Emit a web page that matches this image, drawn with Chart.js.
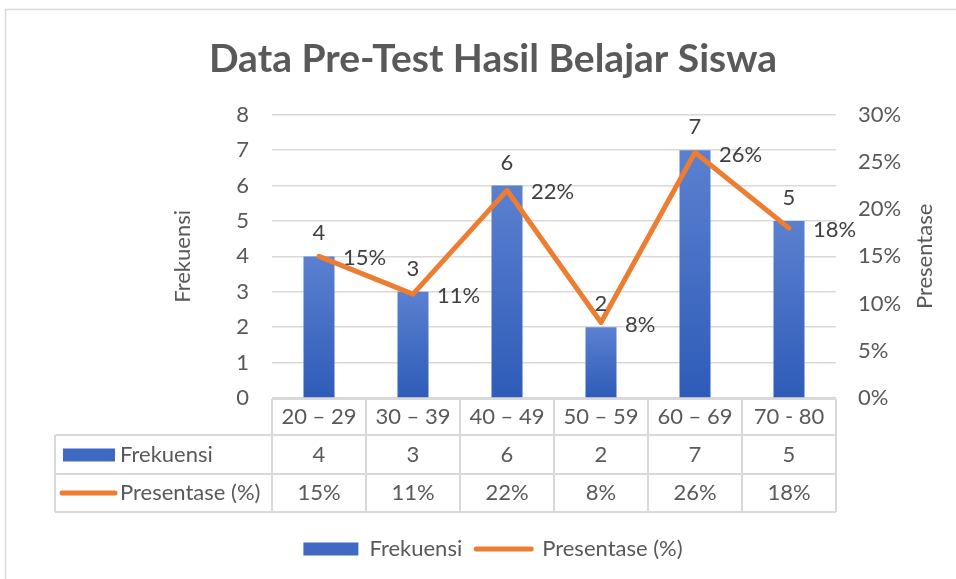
<!DOCTYPE html>
<html>
<head>
<meta charset="utf-8">
<script src="https://cdn.jsdelivr.net/npm/chart.js@4"></script>
<style>
  html, body { margin: 0; padding: 0; background: #fff; }
  #wrap { position: absolute; left: 0; top: 0; width: 956px; height: 579px; }
</style>
</head>
<body>
<div id="wrap"><canvas id="chart" width="956" height="579"></canvas></div>
<script>
// data
const categories = ['20 – 29', '30 – 39', '40 – 49', '50 – 59', '60 – 69', '70 - 80'];
const frekuensi = [4, 3, 6, 2, 7, 5];
const presentase = [15, 11, 22, 8, 26, 18];
const leftTicks = [0, 1, 2, 3, 4, 5, 6, 7, 8];
const rightTicks = [0, 5, 10, 15, 20, 25, 30];

const FONT = 'Lato';
const FS = 22;
const GREY = '#595959';
const LINE = '#d9d9d9';
const BLUE = '#3f69c2';
const ORANGE = '#ED7D31';

const pct = v => Math.round(v) + '%';

// white background + outer frame
const framePlugin = {
  id: 'frame',
  beforeDraw(chart) {
    const c = chart.ctx;
    c.save();
    c.fillStyle = '#fff';
    c.fillRect(0, 0, chart.width, chart.height);
    c.strokeStyle = LINE;
    c.lineWidth = 1.5;
    c.beginPath();
    c.moveTo(5.5, chart.height);
    c.lineTo(5.5, 9.5);
    c.lineTo(chart.width, 9.5);
    c.stroke();
    c.restore();
  }
};

// value labels on bars and on the line
const labelPlugin = {
  id: 'labels',
  afterDatasetsDraw(chart) {
    const c = chart.ctx;
    c.save();
    c.font = FS + 'px ' + FONT;
    c.fillStyle = '#404040';
    c.textBaseline = 'middle';
    chart.getDatasetMeta(0).data.forEach((el, i) => {
      c.textAlign = 'center';
      c.fillText(String(frekuensi[i]), el.x, el.y - 23);
    });
    chart.getDatasetMeta(1).data.forEach((el, i) => {
      c.textAlign = 'left';
      c.fillText(pct(presentase[i]), el.x + 24, el.y + 2);
    });
    c.restore();
  }
};

// data table under the plot + right axis title
const tablePlugin = {
  id: 'table',
  afterDraw(chart) {
    const c = chart.ctx;
    const xs = chart.scales.x;
    const n = categories.length;
    const colW = (xs.right - xs.left) / n;
    const y0 = chart.chartArea.bottom + 1;
    const r1 = y0 + 36, r2 = r1 + 39, r3 = r2 + 38;
    const tableLeft = 55;

    c.save();
    c.strokeStyle = LINE;
    c.lineWidth = 2;
    c.beginPath();
    c.moveTo(xs.left, y0); c.lineTo(xs.right, y0);
    [r1, r2, r3].forEach(y => { c.moveTo(tableLeft, y); c.lineTo(xs.right, y); });
    for (let i = 0; i <= n; i++) {
      const x = xs.left + i * colW;
      c.moveTo(x, y0); c.lineTo(x, r3);
    }
    c.moveTo(tableLeft, r1); c.lineTo(tableLeft, r3);
    c.stroke();

    c.font = FS + 'px ' + FONT;
    c.fillStyle = GREY;
    c.textBaseline = 'middle';
    c.textAlign = 'center';
    categories.forEach((cat, i) => {
      const x = xs.getPixelForValue(i);
      c.fillText(cat, x, (y0 + r1) / 2);
      c.fillText(String(frekuensi[i]), x, (r1 + r2) / 2);
      c.fillText(pct(presentase[i]), x, (r2 + r3) / 2);
    });

    // row keys
    c.textAlign = 'left';
    c.fillStyle = BLUE;
    c.fillRect(63, (r1 + r2) / 2 - 6, 52, 13);
    c.strokeStyle = ORANGE;
    c.lineWidth = 5;
    c.lineCap = 'round';
    c.beginPath();
    c.moveTo(62, (r2 + r3) / 2); c.lineTo(115, (r2 + r3) / 2);
    c.stroke();
    c.fillStyle = GREY;
    c.fillText('Frekuensi', 120, (r1 + r2) / 2);
    c.fillText('Presentase (%)', 120, (r2 + r3) / 2);

    // right axis title, reading bottom to top
    const ya = chart.chartArea;
    c.translate(925, (ya.top + ya.bottom) / 2);
    c.rotate(-Math.PI / 2);
    c.textAlign = 'center';
    c.fillText('Presentase', 0, 0);
    c.restore();
  }
};

const barGradient = (ctx) => {
  const chart = ctx.chart;
  if (!chart.chartArea || ctx.type !== 'data') return BLUE;
  const y = chart.scales.y;
  const top = y.getPixelForValue(ctx.raw);
  const bottom = y.getPixelForValue(0);
  const g = chart.ctx.createLinearGradient(0, top, 0, bottom);
  g.addColorStop(0, '#5b80d0');
  g.addColorStop(1, '#2e5cb8');
  return g;
};

new Chart(document.getElementById('chart'), {
  data: {
    labels: categories,
    datasets: [
      {
        type: 'bar',
        label: 'Frekuensi',
        data: frekuensi,
        yAxisID: 'y',
        backgroundColor: barGradient,
        borderWidth: 0,
        barPercentage: 0.33,
        categoryPercentage: 1,
        pointStyle: 'rect',
        order: 1
      },
      {
        type: 'line',
        label: 'Presentase (%)',
        data: presentase,
        yAxisID: 'y2',
        borderColor: ORANGE,
        backgroundColor: ORANGE,
        borderWidth: 5,
        borderJoinStyle: 'round',
        borderCapStyle: 'round',
        pointRadius: 0,
        pointStyle: 'line',
        tension: 0,
        order: 0
      }
    ]
  },
  options: {
    responsive: false,
    devicePixelRatio: 1,
    animation: false,
    layout: { padding: { left: 30, right: 0, top: 9, bottom: 9 } },
    plugins: {
      title: {
        display: true,
        text: 'Data Pre-Test Hasil Belajar Siswa',
        color: GREY,
        font: { family: FONT, size: 39, weight: 'bold' },
        padding: { top: 27, bottom: 32 }
      },
      legend: {
        position: 'bottom',
        labels: {
          color: GREY,
          font: { family: FONT, size: FS },
          usePointStyle: true,
          pointStyleWidth: 55,
          boxHeight: 13,
          padding: 14,
          generateLabels(chart) {
            const items = Chart.defaults.plugins.legend.labels.generateLabels(chart);
            items.sort((a, b) => a.datasetIndex - b.datasetIndex);
            items[0].fillStyle = BLUE;
            items[0].lineWidth = 0;
            items[1].lineCap = 'round';
            items[1].lineWidth = 5;
            items[1].strokeStyle = ORANGE;
            return items;
          }
        }
      },
      tooltip: { enabled: false }
    },
    scales: {
      x: {
        grid: { display: false },
        border: { display: false },
        ticks: { display: false },
        afterFit(scale) { scale.height = 126; }
      },
      y: {
        position: 'left',
        min: leftTicks[0],
        max: leftTicks[leftTicks.length - 1],
        afterBuildTicks(scale) { scale.ticks = leftTicks.map(v => ({ value: v })); },
        grid: { color: LINE, lineWidth: 1.5, drawTicks: false },
        border: { display: false },
        ticks: { color: GREY, font: { family: FONT, size: FS }, padding: 23 },
        title: {
          display: true,
          text: 'Frekuensi',
          color: GREY,
          font: { family: FONT, size: FS },
          padding: { top: 140, bottom: 0 }
        },
        afterFit(scale) { scale.width = 242; }
      },
      y2: {
        position: 'right',
        min: rightTicks[0],
        max: rightTicks[rightTicks.length - 1],
        afterBuildTicks(scale) { scale.ticks = rightTicks.map(v => ({ value: v })); },
        grid: { display: false, drawTicks: false },
        border: { display: false },
        ticks: {
          color: GREY,
          font: { family: FONT, size: FS },
          padding: 22,
          callback: v => v + '%'
        },
        afterFit(scale) { scale.width = 120; }
      }
    }
  },
  plugins: [framePlugin, labelPlugin, tablePlugin]
});
</script>
</body>
</html>
